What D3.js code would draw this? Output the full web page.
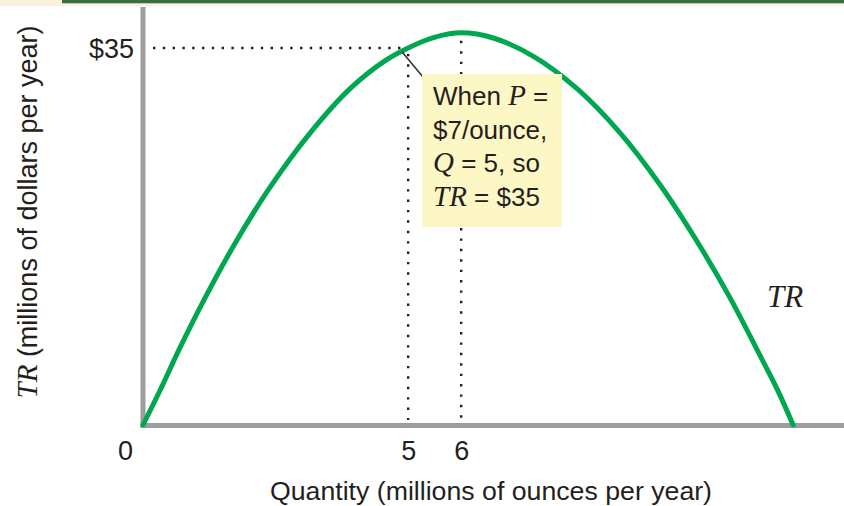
<!DOCTYPE html>
<html>
<head>
<meta charset="utf-8">
<script src="https://cdn.jsdelivr.net/npm/d3@7/dist/d3.min.js"></script>
<style>
  html, body { margin: 0; padding: 0; background: #ffffff; }
  svg { display: block; }
  .sans { font-family: "Liberation Sans", Arial, Helvetica, sans-serif; fill: #231f20; }
  .serif-it { font-family: "Liberation Serif", "Times New Roman", serif; font-style: italic; }
</style>
</head>
<body>
<svg id="chart" width="844" height="506"></svg>
<script>
// Total revenue (millions of dollars per year) against quantity (millions of ounces per year)
const quantity = [0, 0.32, 0.70, 1.17, 1.74, 2.40, 3.15, 3.90, 4.56, 5, 5.51, 6,
                  6.62, 7.37, 8.19, 9.00, 9.75, 10.44, 11.07, 11.63, 11.98, 12.26];
const revenue  = [0, 3.2, 7.2, 11.8, 16.9, 22.1, 27.1, 31.2, 33.8, 35, 36.0, 36.4,
                  35.9, 34.2, 31.2, 27.1, 22.3, 17.1, 11.8, 6.5, 3.1, 0];

// Highlighted point on the curve and the revenue peak
const pointQ = 5;
const pointTR = 35;
const peakQ = 6;
const peakTR = 36.4;

// Axis ticks
const xTicks = [0, 5, 6];
const yTicks = [35];
const yTickLabels = ["$35"];

const xTitle = "Quantity (millions of ounces per year)";
const yTitleRest = " (millions of dollars per year)";
const noteLines = [
  [{t: "When ", it: false}, {t: "P", it: true}, {t: " =", it: false}],
  [{t: "$7/ounce,", it: false}],
  [{t: "Q", it: true}, {t: " = 5, so", it: false}],
  [{t: "TR", it: true}, {t: " = $35", it: false}]
];

const svg = d3.select("#chart");

// Header strip
svg.append("rect").attr("x", 0).attr("y", 0).attr("width", 844).attr("height", 6).attr("fill", "#fbf0df");
svg.append("rect").attr("x", 62).attr("y", 0).attr("width", 782).attr("height", 3.3).attr("fill", "#3c6b47");

const x = d3.scaleLinear().domain([0, 13.2]).range([143, 843]);
const y = d3.scaleLinear().domain([0, 38.8]).range([425, 7]);

// Dotted guides
const dot = "#231f20";
svg.append("line")
  .attr("x1", x(0) + 10).attr("x2", x(pointQ))
  .attr("y1", y(pointTR)).attr("y2", y(pointTR))
  .attr("stroke", dot).attr("stroke-width", 2.4).attr("stroke-dasharray", "2.4,7.4");
svg.append("line")
  .attr("x1", x(pointQ)).attr("x2", x(pointQ))
  .attr("y1", y(pointTR) + 6).attr("y2", y(0) - 5)
  .attr("stroke", dot).attr("stroke-width", 2.4).attr("stroke-dasharray", "2.4,8");
svg.append("line")
  .attr("x1", x(peakQ)).attr("x2", x(peakQ))
  .attr("y1", y(peakTR) + 8).attr("y2", y(0) - 5)
  .attr("stroke", dot).attr("stroke-width", 2.4).attr("stroke-dasharray", "2.4,8");

// Axes lines
svg.append("line").attr("x1", x(0)).attr("x2", x(0)).attr("y1", 7).attr("y2", y(0) + 3)
  .attr("stroke", "#9d9d9f").attr("stroke-width", 5);
svg.append("line").attr("x1", x(0) - 2.5).attr("x2", 844).attr("y1", y(0) + 0.5).attr("y2", y(0) + 0.5)
  .attr("stroke", "#9d9d9f").attr("stroke-width", 5);

// Tick labels through d3 axes
const xAxis = d3.axisBottom(x).tickValues(xTicks).tickSize(0).tickPadding(16).tickFormat(d3.format("d"));
const gx = svg.append("g").attr("transform", `translate(0,${y(0)})`).call(xAxis);
gx.select(".domain").remove();
gx.selectAll("text").attr("class", "sans").attr("font-size", 27)
  .attr("dx", d => d === 0 ? -18 : 0);

const yAxis = d3.axisLeft(y).tickValues(yTicks).tickSize(0).tickPadding(9)
  .tickFormat((d, i) => yTickLabels[i]);
const gy = svg.append("g").attr("transform", `translate(${x(0)},0)`).call(yAxis);
gy.select(".domain").remove();
gy.selectAll("text").attr("class", "sans").attr("font-size", 27).attr("dy", "0.35em");

// Axis titles
svg.append("text").attr("class", "sans").attr("font-size", 26.7)
  .attr("x", 491).attr("y", 500).attr("text-anchor", "middle").text(xTitle);

const yt = svg.append("text").attr("class", "sans").attr("font-size", 27)
  .attr("text-anchor", "middle")
  .attr("transform", "translate(37,212) rotate(-90)");
yt.append("tspan").attr("class", "serif-it").attr("font-size", 29).text("TR");
yt.append("tspan").text(yTitleRest);

// Total revenue curve
const pts = quantity.map((q, i) => [q, revenue[i]]);
svg.append("path")
  .datum(pts)
  .attr("fill", "none")
  .attr("stroke", "#00a650")
  .attr("stroke-width", 5)
  .attr("stroke-linecap", "round")
  .attr("d", d3.line().x(d => x(d[0])).y(d => y(d[1])).curve(d3.curveCatmullRom.alpha(0.5)));

svg.append("text").attr("class", "serif-it").attr("font-size", 31).attr("fill", "#231f20")
  .attr("x", 767).attr("y", 307).text("TR");

// Callout
svg.append("line").attr("x1", x(pointQ) - 6).attr("y1", y(pointTR) + 4)
  .attr("x2", 423).attr("y2", 77).attr("stroke", "#333").attr("stroke-width", 1.6);
svg.append("rect").attr("x", 422).attr("y", 74).attr("width", 140).attr("height", 153)
  .attr("fill", "#fdf6c5");
const note = svg.append("text").attr("class", "sans").attr("font-size", 26);
noteLines.forEach((line, i) => {
  line.forEach((seg, j) => {
    const ts = note.append("tspan").text(seg.t);
    if (j === 0) ts.attr("x", 433).attr("y", 105 + i * 33.6);
    if (seg.it) ts.attr("class", "serif-it").attr("font-size", 29);
  });
});
</script>
</body>
</html>
